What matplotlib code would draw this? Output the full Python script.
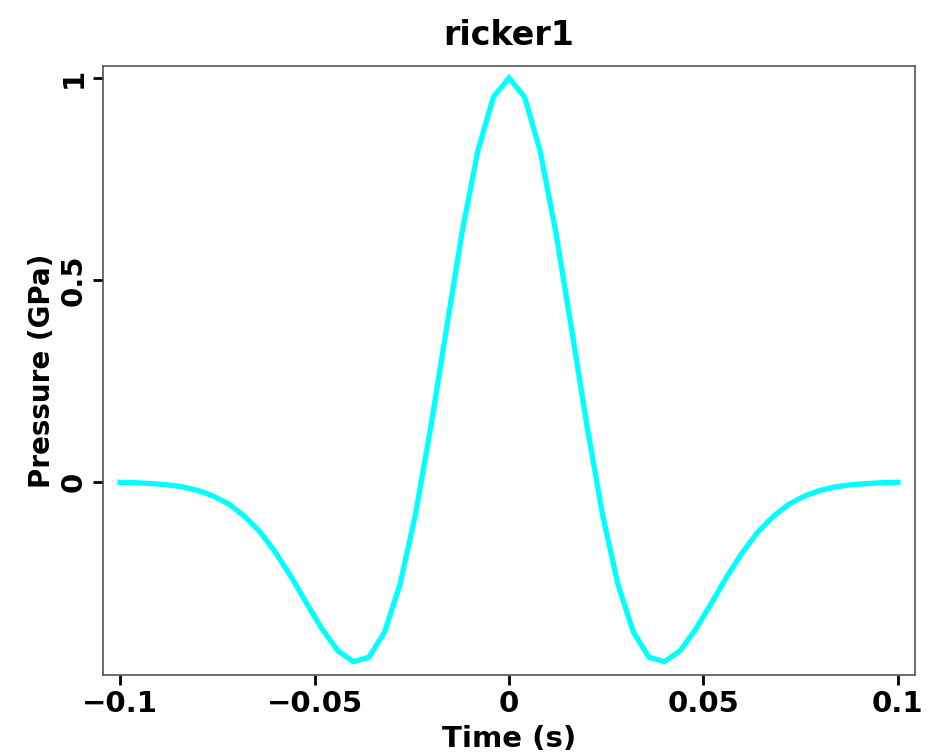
import matplotlib
matplotlib.use("Agg")
import matplotlib.pyplot as plt

time_s = [-0.100, -0.096, -0.092, -0.088, -0.084, -0.080, -0.076, -0.072, -0.068, -0.064,
          -0.060, -0.056, -0.052, -0.048, -0.044, -0.040, -0.036, -0.032, -0.028, -0.024,
          -0.020, -0.016, -0.012, -0.008, -0.004, 0.000, 0.004, 0.008, 0.012, 0.016,
          0.020, 0.024, 0.028, 0.032, 0.036, 0.040, 0.044, 0.048, 0.052, 0.056,
          0.060, 0.064, 0.068, 0.072, 0.076, 0.080, 0.084, 0.088, 0.092, 0.096, 0.100]
pressure_gpa = [-0.001, -0.002, -0.004, -0.007, -0.012, -0.021, -0.035, -0.055, -0.085, -0.124,
                -0.175, -0.235, -0.301, -0.365, -0.418, -0.445, -0.434, -0.372, -0.253, -0.078,
                0.142, 0.384, 0.621, 0.820, 0.953, 1.000, 0.953, 0.820, 0.621, 0.384,
                0.142, -0.078, -0.253, -0.372, -0.434, -0.445, -0.418, -0.365, -0.301, -0.235,
                -0.175, -0.124, -0.085, -0.055, -0.035, -0.021, -0.012, -0.007, -0.004, -0.002, -0.001]
xticks = [-0.1, -0.05, 0, 0.05, 0.1]
xtick_labels = ["\u22120.1", "\u22120.05", "0", "0.05", "0.1"]
yticks = [0, 0.5, 1]
ytick_labels = ["0", "0.5", "1"]

plt.rcParams['font.family'] = ['DejaVu Sans']
plt.rcParams['font.weight'] = 'bold'

fig = plt.figure(figsize=(9.52, 7.53), dpi=100)
ax = fig.add_axes([103/952, 1 - 675/753, (915-103)/952, (675-66)/753])
ax.plot(time_s, pressure_gpa, color='#00ffff', linewidth=3.8, solid_joinstyle='miter')
ax.set_xlim(-0.1044, 0.1044)
ax.set_ylim(-0.478, 1.0297)
ax.set_xticks(xticks)
ax.set_xticklabels(xtick_labels, fontsize=21, fontweight='bold')
ax.set_yticks(yticks)
ax.set_yticklabels(ytick_labels, fontsize=21, fontweight='bold', rotation=90, va='center')
ax.tick_params(direction='out', length=7, width=2, color='black', pad=4)
for s in ax.spines.values():
    s.set_color('#555555')
    s.set_linewidth(1.2)
ax.set_xlabel("Time (s)", fontsize=21, fontweight='bold', labelpad=5)
ax.set_ylabel("Pressure (GPa)", fontsize=20, fontweight='bold', labelpad=3)
ax.set_title("ricker1", fontsize=24, fontweight='bold', pad=15)
fig.savefig("out.png", dpi=100)
